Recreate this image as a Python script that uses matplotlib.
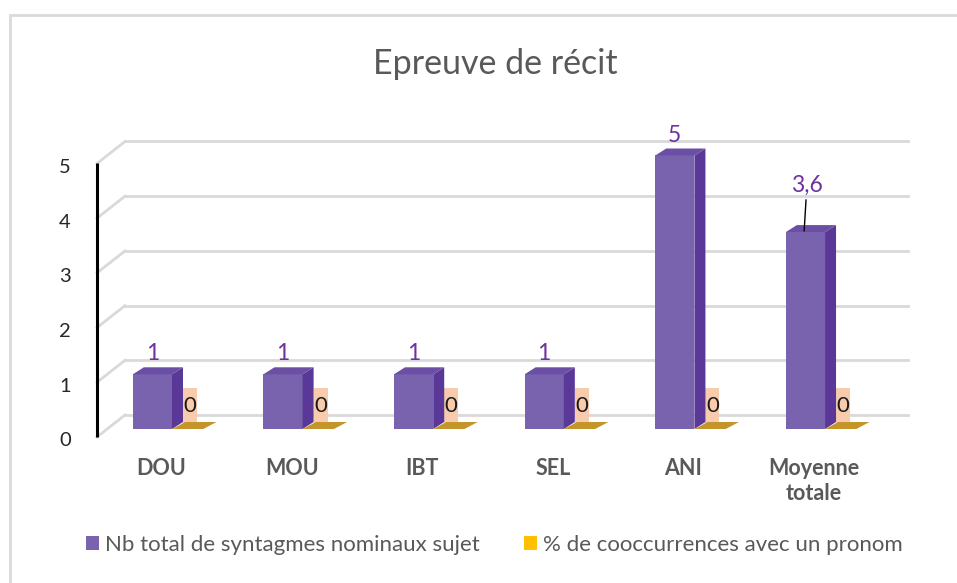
import matplotlib.pyplot as plt
from matplotlib.patches import Polygon, Rectangle, Patch

# data
categories = ['DOU', 'MOU', 'IBT', 'SEL', 'ANI', 'Moyenne\ntotale']
nb_sn = [1, 1, 1, 1, 5, 3.6]
pct_pronom = [0, 0, 0, 0, 0, 0]
nb_labels = ['1', '1', '1', '1', '5', '3,6']
pct_labels = ['0', '0', '0', '0', '0', '0']
series_names = ['Nb total de syntagmes nominaux sujet', '% de cooccurrences avec un pronom']
yticks = [0, 1, 2, 3, 4, 5]

PURPLE = '#7A63AE'
PURPLE_SIDE = '#5A3897'
PURPLE_TOP = '#6B4FA4'
ORANGE = '#FFC000'
GOLD = '#C4952B'
PEACH = '#F8CBAD'
GRID = '#D9D9D9'
TXT = '#595959'

plt.rcParams['font.family'] = ['Lato', 'DejaVu Sans']

W, H = 957, 583
fig = plt.figure(figsize=(W / 100, H / 100), dpi=100)
fig.patch.set_facecolor('white')

# axes = plane of the bar fronts
xmin, xmax = -0.490, 5.505
ax = fig.add_axes([108 / W, (H - 429) / H, 783 / W, 273.5 / H])
ax.set_xlim(xmin, xmax)
ax.set_ylim(0, 5)
ax.axis('off')

# pixel -> data conversion for the fake 3D offsets
px = (xmax - xmin) / 783
py = 5 / 273.5
fx, fy = -11 * px, -8 * py      # front plane (axis line, labels)
bx, by = 17 * px, 14 * py       # back wall (gridlines)
dx, dy = 11 * px, 7 * py        # bar depth

# back wall gridlines + diagonals to the axis
for t in yticks:
    ax.plot([xmin + bx, xmax + bx], [t + by, t + by], color=GRID, lw=2,
            clip_on=False, zorder=1)
    ax.plot([xmin + fx, xmin + bx], [t + fy, t + by], color=GRID, lw=2,
            clip_on=False, zorder=1)
    ax.text(xmin + fx - 32 * px, t + fy - 4 * py, str(t), ha='center',
            va='center', fontsize=14.5, color='#262626')

ax.plot([xmin + fx, xmin + fx], [fy, 5 + fy], color='black', lw=2.2,
        clip_on=False, solid_capstyle='butt', zorder=6)

bw = 0.3
ow = 0.24
for i, (v, p) in enumerate(zip(nb_sn, pct_pronom)):
    x0, x1 = i - bw, i
    ax.add_patch(Rectangle((x0, 0), bw, v, fc=PURPLE, ec='none', zorder=3,
                           clip_on=False))
    ax.add_patch(Polygon([(x1, 0), (x1, v), (x1 + dx, v + dy), (x1 + dx, dy)],
                         closed=True, fc=PURPLE_SIDE, ec='none', zorder=3,
                         clip_on=False))
    ax.add_patch(Polygon([(x0, v), (x1, v), (x1 + dx, v + dy), (x0 + dx, v + dy)],
                         closed=True, fc=PURPLE_TOP, ec='none', zorder=3,
                         clip_on=False))

    # second series (flat, value 0)
    ax.add_patch(Rectangle((x1, 0), ow, p, fc=ORANGE, ec='none', zorder=4,
                           clip_on=False))
    ax.add_patch(Polygon([(x1, p), (x1 + ow, p), (x1 + ow + dx * 1.2, p + dy),
                          (x1 + dx * 1.2, p + dy)],
                         closed=True, fc=GOLD, ec='none', zorder=4,
                         clip_on=False))

    # label of the second series on its light box
    ax.add_patch(Rectangle((x1 + dx, p + 0.04), 14 * px, 0.71, fc=PEACH,
                           ec='none', zorder=2))
    ax.text(x1 + dx + 7 * px, p + 0.42, pct_labels[i], ha='center', va='center',
            fontsize=16, color='#1a1a1a', zorder=5)

    # label of the first series
    if i < len(nb_sn) - 1:
        ax.annotate(nb_labels[i], xy=(x0 + bw / 2, v), xytext=(0, 10),
                    textcoords='offset points', ha='center', va='baseline',
                    fontsize=16.5, color='#7030A0', annotation_clip=False)
    else:
        ax.annotate(nb_labels[i], xy=(x0 + bw / 2 - 0.01, v + 0.02),
                    xytext=(2, 33), textcoords='offset points', ha='center',
                    va='center', fontsize=16.5, color='#7030A0',
                    annotation_clip=False,
                    arrowprops=dict(arrowstyle='-', color='black', lw=1,
                                    shrinkA=1, shrinkB=0))

    ax.annotate(categories[i], xy=(i + fx, fy), xytext=(0, -15),
                textcoords='offset points', ha='center', va='top',
                fontsize=15.5, fontweight='bold', color=TXT,
                linespacing=1.25, annotation_clip=False)

fig.text(495 / W, 1 - 64 / H, 'Epreuve de récit', ha='center', va='center',
         fontsize=24.5, color=TXT)

handles = [Patch(fc=PURPLE, ec='none'), Patch(fc=ORANGE, ec='none')]
fig.legend(handles, series_names, loc='center',
           bbox_to_anchor=(494 / W, 1 - 545 / H), ncol=2, frameon=False,
           fontsize=16, handlelength=0.6, handleheight=0.6,
           handletextpad=0.25, columnspacing=2.0, labelcolor=TXT)

# chart border
fig.add_artist(Rectangle((10 / W, -0.1), 1.2, 1.1 - 15 / H,
                         transform=fig.transFigure, fill=False, ec=GRID, lw=2))

fig.savefig('out.png', dpi=100)
